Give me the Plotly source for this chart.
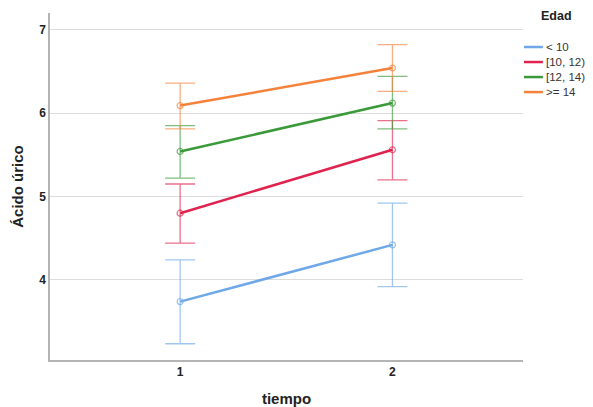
import plotly.graph_objects as go

tiempo = [1, 2]
groups = ["< 10", "[10, 12)", "[12, 14)", ">= 14"]
means = {
    "< 10": [3.74, 4.42],
    "[10, 12)": [4.80, 5.56],
    "[12, 14)": [5.54, 6.12],
    ">= 14": [6.09, 6.54],
}
upper = {
    "< 10": [4.24, 4.92],
    "[10, 12)": [5.15, 5.91],
    "[12, 14)": [5.85, 6.44],
    ">= 14": [6.36, 6.82],
}
lower = {
    "< 10": [3.235, 3.92],
    "[10, 12)": [4.44, 5.20],
    "[12, 14)": [5.22, 5.81],
    ">= 14": [5.81, 6.26],
}
colors = {
    "< 10": (111, 168, 232),
    "[10, 12)": (224, 35, 78),
    "[12, 14)": (58, 154, 58),
    ">= 14": (245, 130, 58),
}

fig = go.Figure()
for g in groups:
    r, gg, b = colors[g]
    m = means[g]
    fig.add_trace(go.Scatter(
        x=tiempo, y=m, mode="markers", showlegend=False, hoverinfo="skip",
        marker=dict(symbol="circle-open", size=6, color=f"rgba({r},{gg},{b},0.7)", line=dict(width=1.2)),
        error_y=dict(type="data", symmetric=False,
                     array=[u - v for u, v in zip(upper[g], m)],
                     arrayminus=[v - l for v, l in zip(m, lower[g])],
                     color=f"rgba({r},{gg},{b},0.65)", thickness=1.3, width=15),
    ))
    fig.add_trace(go.Scatter(
        x=tiempo, y=m, name=g, mode="lines", showlegend=False,
        line=dict(color=f"rgb({r},{gg},{b})", width=2.5),
    ))

# custom legend (paper coordinates, right of the plot area)
fig.add_annotation(text="<b>Edad</b>", xref="paper", yref="paper", x=1.036, y=0.99,
                   xanchor="left", yanchor="middle", showarrow=False, borderpad=0,
                   font=dict(size=12.5, color="#222"))
for i, g in enumerate(groups):
    r, gg, b = colors[g]
    yy = 0.902 - i * 0.0433
    fig.add_shape(type="line", xref="paper", yref="paper", x0=1.002, x1=1.042, y0=yy, y1=yy,
                  line=dict(color=f"rgb({r},{gg},{b})", width=2.5))
    fig.add_annotation(text=g, xref="paper", yref="paper", x=1.046, y=yy,
                       xanchor="left", yanchor="middle", showarrow=False, borderpad=0,
                       font=dict(size=11.5, color="#333"))

fig.update_layout(
    width=585, height=399,
    margin=dict(l=42, r=70, t=5, b=47, autoexpand=False),
    plot_bgcolor="white", paper_bgcolor="white",
    font=dict(family="Liberation Sans, Arial, sans-serif", color="#222"),
    showlegend=False,
    xaxis=dict(range=[0.387, 2.615], tickvals=[1, 2], ticktext=["<b>1</b>", "<b>2</b>"],
               showgrid=False, zeroline=False, showline=True, linecolor="#b4b4b4", linewidth=1.5,
               ticks="", tickfont=dict(size=12),
               title=dict(text="<b>tiempo</b>", font=dict(size=15), standoff=19)),
    yaxis=dict(range=[3.04, 7.2], tickvals=[4, 5, 6, 7], ticktext=["<b>4</b>", "<b>5</b>", "<b>6</b>", "<b>7</b>"],
               showgrid=True, gridcolor="#dcdcdc", gridwidth=1.3, zeroline=False,
               showline=True, linecolor="#b4b4b4", linewidth=1.5, ticks="", tickfont=dict(size=12),
               title=dict(text="<b>Ácido úrico</b>", font=dict(size=15), standoff=12)),
)

fig.write_html("out.html")
